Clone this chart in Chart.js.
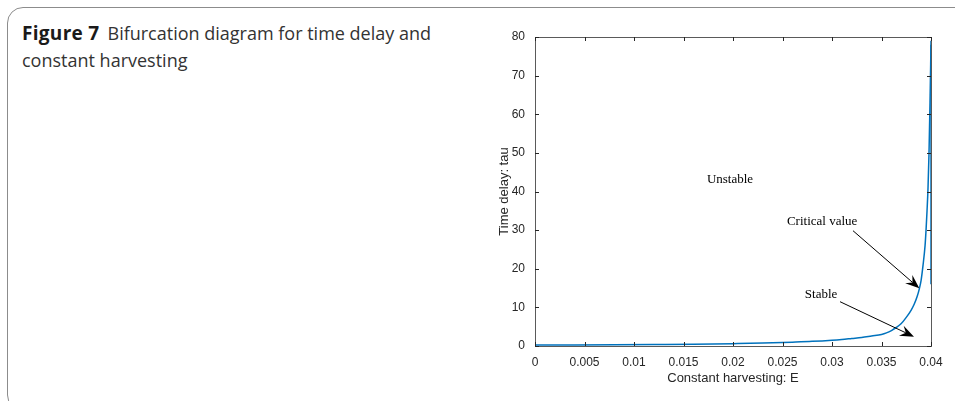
<!DOCTYPE html>
<html>
<head>
<meta charset="utf-8">
<script src="https://cdn.jsdelivr.net/npm/chart.js@4.4.1/dist/chart.umd.min.js"></script>
<style>
  html, body { margin:0; padding:0; background:#fff; }
  body { width:955px; height:401px; position:relative; overflow:hidden; }
  #frame { position:absolute; left:7px; top:7px; width:1000px; height:404px; border:1.5px solid #8c8c8c; border-radius:16px; box-sizing:border-box; }
  #title { position:absolute; left:22px; top:20px; font-family:"Open Sans", sans-serif; font-size:18px; line-height:27px; color:#333; width:440px; }
  #title b { color:#1a1a1a; font-weight:700; font-size:19px; letter-spacing:0.3px; margin-right:8px; }
  #wrap { position:absolute; left:0; top:0; width:955px; height:401px; }
</style>
</head>
<body>
<div id="frame"></div>
<div id="title"><b>Figure 7</b>Bifurcation diagram for time delay and constant harvesting</div>
<div id="wrap"><canvas id="c" width="955" height="401"></canvas></div>
<script>
// ---- data ----
const eValues   = [0, 0.004, 0.008, 0.012, 0.016, 0.02, 0.023, 0.026, 0.028, 0.03, 0.031, 0.032, 0.033, 0.034, 0.035, 0.0355, 0.036, 0.0365, 0.037, 0.0375, 0.038, 0.0383, 0.0386, 0.0388, 0.039, 0.0392, 0.0394, 0.0395, 0.0396, 0.0397, 0.0398, 0.0399, 0.04];
const tauValues = [0.25, 0.28, 0.32, 0.38, 0.45, 0.6, 0.75, 1.0, 1.2, 1.5, 1.7, 1.95, 2.2, 2.6, 3.0, 3.4, 4.0, 4.8, 5.8, 7.4, 9.3, 10.8, 12.8, 14.6, 17, 21, 26, 30, 35, 41, 50, 63, 78];
const vertE   = [0.04, 0.04];
const vertTau = [16, 79];
const xTickValues = [0, 0.005, 0.01, 0.015, 0.02, 0.025, 0.03, 0.035, 0.04];
const xTickLabels = ['0', '0.005', '0.01', '0.015', '0.02', '0.025', '0.03', '0.035', '0.04'];
const yTickValues = [0, 10, 20, 30, 40, 50, 60, 70, 80];
const yTickLabels = ['0', '10', '20', '30', '40', '50', '60', '70', '80'];
const xTitle = 'Constant harvesting: E';
const yTitle = 'Time delay: tau';
// annotations in data coordinates
const textLabels = [
  { text: 'Unstable',       e: 0.0197, tau: 43.0 },
  { text: 'Critical value', e: 0.0290, tau: 32.1 },
  { text: 'Stable',         e: 0.0289, tau: 13.2 }
];
const arrows = [
  { e0: 0.03212, t0: 29.85, e1: 0.03882, t1: 14.94 },
  { e0: 0.03081, t0: 11.47, e1: 0.03828, t1: 2.41 }
];

const curve = eValues.map((e, i) => ({ x: e, y: tauValues[i] }));
const vert = vertE.map((e, i) => ({ x: e, y: vertTau[i] }));

const decor = {
  id: 'decor',
  afterDraw(chart) {
    const ctx = chart.ctx, a = chart.chartArea;
    const xs = chart.scales.x, ys = chart.scales.y;
    ctx.save();
    // box
    ctx.strokeStyle = '#5a5a5a';
    ctx.lineWidth = 1;
    ctx.strokeRect(Math.round(a.left) + 0.5, Math.round(a.top) + 0.5, Math.round(a.right - a.left), Math.round(a.bottom - a.top));
    // inward ticks
    const tl = 4;
    ctx.strokeStyle = '#262626';
    ctx.beginPath();
    xTickValues.forEach(v => {
      const px = Math.round(xs.getPixelForValue(v)) + 0.5;
      ctx.moveTo(px, a.bottom); ctx.lineTo(px, a.bottom - tl);
      ctx.moveTo(px, a.top); ctx.lineTo(px, a.top + tl);
    });
    yTickValues.forEach(v => {
      const py = Math.round(ys.getPixelForValue(v)) + 0.5;
      ctx.moveTo(a.left, py); ctx.lineTo(a.left + tl, py);
      ctx.moveTo(a.right, py); ctx.lineTo(a.right - tl, py);
    });
    ctx.stroke();
    // axis titles
    ctx.fillStyle = '#262626';
    ctx.font = '13px "Liberation Sans", Arial, sans-serif';
    ctx.textAlign = 'center';
    ctx.textBaseline = 'middle';
    ctx.fillText(xTitle, (a.left + a.right) / 2, a.bottom + 32);
    ctx.save();
    ctx.translate(a.left - 31, (a.top + a.bottom) / 2);
    ctx.rotate(-Math.PI / 2);
    ctx.fillText(yTitle, 0, 0);
    ctx.restore();
    // text annotations
    ctx.fillStyle = '#000';
    ctx.font = '13px "Liberation Serif", "DejaVu Serif", serif';
    textLabels.forEach(t => {
      ctx.fillText(t.text, xs.getPixelForValue(t.e), ys.getPixelForValue(t.tau));
    });
    // arrows
    arrows.forEach(ar => {
      const x0 = xs.getPixelForValue(ar.e0), y0 = ys.getPixelForValue(ar.t0);
      const x1 = xs.getPixelForValue(ar.e1), y1 = ys.getPixelForValue(ar.t1);
      const ang = Math.atan2(y1 - y0, x1 - x0);
      const L = 14, W = 5.5, back = 9;
      ctx.strokeStyle = '#000';
      ctx.lineWidth = 1;
      ctx.beginPath();
      ctx.moveTo(x0, y0);
      ctx.lineTo(x1 - back * Math.cos(ang), y1 - back * Math.sin(ang));
      ctx.stroke();
      ctx.save();
      ctx.translate(x1, y1);
      ctx.rotate(ang);
      ctx.fillStyle = '#000';
      ctx.beginPath();
      ctx.moveTo(0, 0);
      ctx.lineTo(-L, -W);
      ctx.lineTo(-back, 0);
      ctx.lineTo(-L, W);
      ctx.closePath();
      ctx.fill();
      ctx.restore();
    });
    ctx.restore();
  }
};

new Chart(document.getElementById('c'), {
  type: 'scatter',
  data: {
    datasets: [
      { data: curve, showLine: true, borderColor: '#0072BD', borderWidth: 1.5, pointRadius: 0, cubicInterpolationMode: 'monotone', fill: false },
      { data: vert, showLine: true, borderColor: '#0072BD', borderWidth: 1.5, pointRadius: 0, fill: false }
    ]
  },
  options: {
    responsive: false,
    animation: false,
    events: [],
    layout: { padding: { left: 470, right: 24, top: 37, bottom: 0 } },
    plugins: { legend: { display: false }, tooltip: { enabled: false } },
    scales: {
      x: {
        type: 'linear', min: 0, max: 0.04,
        grid: { display: false, drawTicks: false },
        border: { display: false },
        afterBuildTicks(s) { s.ticks = xTickValues.map(v => ({ value: v })); },
        afterFit(s) { s.height = 55; },
        ticks: {
          padding: 9, color: '#262626', maxRotation: 0, autoSkip: false,
          font: { family: '"Liberation Sans", Arial, sans-serif', size: 12 },
          callback: (v, i) => xTickLabels[i]
        }
      },
      y: {
        type: 'linear', min: 0, max: 80,
        grid: { display: false, drawTicks: false },
        border: { display: false },
        afterBuildTicks(s) { s.ticks = yTickValues.map(v => ({ value: v })); },
        afterFit(s) { s.width = 65; },
        ticks: {
          padding: 10, color: '#262626', autoSkip: false,
          font: { family: '"Liberation Sans", Arial, sans-serif', size: 12 },
          callback: (v, i) => yTickLabels[i]
        }
      }
    }
  },
  plugins: [decor]
});
</script>
</body>
</html>
